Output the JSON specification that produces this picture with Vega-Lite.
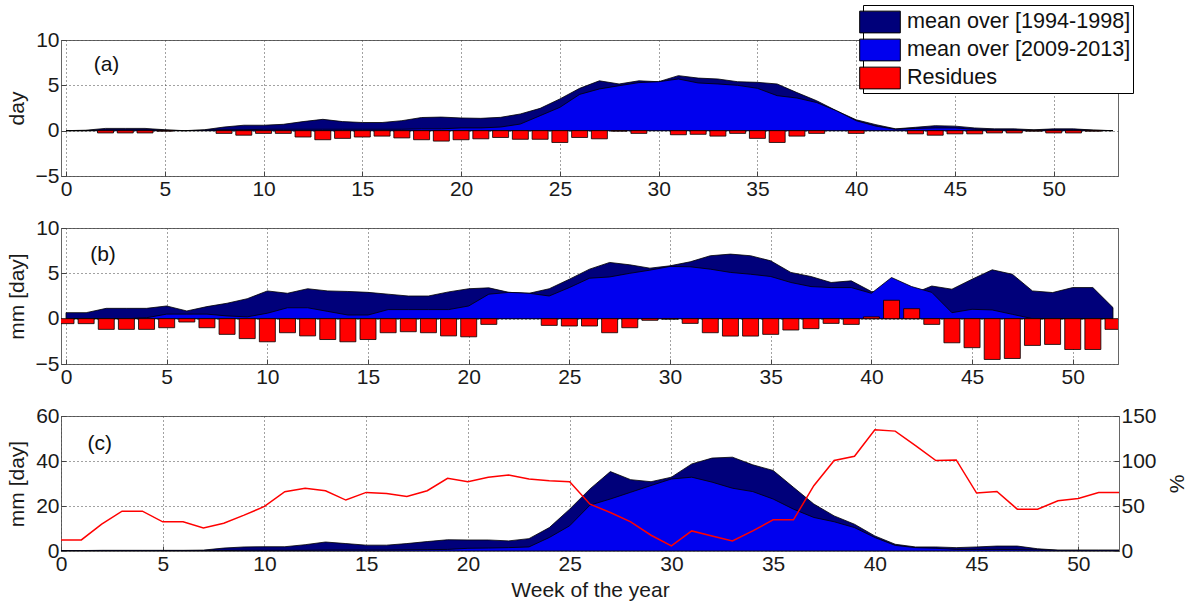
{
  "$schema": "https://vega.github.io/schema/vega-lite/v6.json",
  "padding": {"left": 5, "top": 4, "right": 0, "bottom": 0},
  "background": "white",
  "spacing": 52,
  "bounds": "flush",
  "datasets": {
    "a": [
      {"week": 0, "old": 0, "new": 0, "res": null},
      {"week": 1, "old": 0.05, "new": 0, "res": null},
      {"week": 2, "old": 0.25, "new": 0.1, "res": -0.25},
      {"week": 3, "old": 0.25, "new": 0.1, "res": -0.25},
      {"week": 4, "old": 0.25, "new": 0.1, "res": -0.25},
      {"week": 5, "old": 0.1, "new": 0.05, "res": -0.05},
      {"week": 6, "old": 0, "new": 0, "res": null},
      {"week": 7, "old": 0.1, "new": 0.05, "res": null},
      {"week": 8, "old": 0.4, "new": 0.1, "res": -0.3},
      {"week": 9, "old": 0.6, "new": 0.1, "res": -0.5},
      {"week": 10, "old": 0.6, "new": 0.15, "res": -0.3},
      {"week": 11, "old": 0.7, "new": 0.15, "res": -0.3},
      {"week": 12, "old": 1.0, "new": 0.15, "res": -0.7},
      {"week": 13, "old": 1.25, "new": 0.15, "res": -1.0},
      {"week": 14, "old": 1.0, "new": 0.15, "res": -0.85},
      {"week": 15, "old": 0.9, "new": 0.15, "res": -0.7},
      {"week": 16, "old": 0.9, "new": 0.15, "res": -0.6},
      {"week": 17, "old": 1.1, "new": 0.15, "res": -0.8},
      {"week": 18, "old": 1.45, "new": 0.2, "res": -1.0},
      {"week": 19, "old": 1.5, "new": 0.2, "res": -1.15},
      {"week": 20, "old": 1.4, "new": 0.3, "res": -1.0},
      {"week": 21, "old": 1.36, "new": 0.3, "res": -0.9},
      {"week": 22, "old": 1.47, "new": 0.4, "res": -0.75},
      {"week": 23, "old": 1.84, "new": 0.73, "res": -0.95},
      {"week": 24, "old": 2.46, "new": 1.65, "res": -0.95},
      {"week": 25, "old": 3.5, "new": 2.57, "res": -1.3},
      {"week": 26, "old": 4.67, "new": 4.0, "res": -0.75},
      {"week": 27, "old": 5.5, "new": 4.6, "res": -0.9},
      {"week": 28, "old": 5.15, "new": 4.96, "res": -0.05},
      {"week": 29, "old": 5.5, "new": 5.3, "res": -0.3},
      {"week": 30, "old": 5.4, "new": 5.4, "res": null},
      {"week": 31, "old": 6.07, "new": 5.7, "res": -0.45},
      {"week": 32, "old": 5.8, "new": 5.26, "res": -0.4},
      {"week": 33, "old": 5.7, "new": 5.15, "res": -0.6},
      {"week": 34, "old": 5.4, "new": 5.0, "res": -0.3},
      {"week": 35, "old": 5.33, "new": 4.67, "res": -0.85},
      {"week": 36, "old": 5.15, "new": 3.86, "res": -1.3},
      {"week": 37, "old": 4.2, "new": 3.6, "res": -0.6},
      {"week": 38, "old": 3.3, "new": 3.1, "res": -0.3},
      {"week": 39, "old": 2.2, "new": 2.2, "res": null},
      {"week": 40, "old": 1.2, "new": 1.1, "res": -0.3},
      {"week": 41, "old": 0.66, "new": 0.5, "res": null},
      {"week": 42, "old": 0.2, "new": 0.15, "res": null},
      {"week": 43, "old": 0.37, "new": 0.25, "res": -0.35},
      {"week": 44, "old": 0.55, "new": 0.3, "res": -0.5},
      {"week": 45, "old": 0.5, "new": 0.3, "res": -0.35},
      {"week": 46, "old": 0.3, "new": 0.15, "res": -0.35},
      {"week": 47, "old": 0.2, "new": 0.1, "res": -0.25},
      {"week": 48, "old": 0.2, "new": 0.1, "res": -0.25},
      {"week": 49, "old": 0.1, "new": 0.05, "res": -0.05},
      {"week": 50, "old": 0.2, "new": 0.1, "res": -0.25},
      {"week": 51, "old": 0.2, "new": 0.1, "res": -0.25},
      {"week": 52, "old": 0.07, "new": 0.05, "res": -0.05},
      {"week": 53, "old": 0, "new": 0, "res": null}
    ],
    "b": [
      {"week": 0, "old": 0.66, "new": 0.0, "res": -0.55},
      {"week": 1, "old": 0.66, "new": 0.0, "res": -0.55},
      {"week": 2, "old": 1.14, "new": 0.0, "res": -1.18},
      {"week": 3, "old": 1.14, "new": 0.0, "res": -1.18},
      {"week": 4, "old": 1.14, "new": 0.1, "res": -1.18},
      {"week": 5, "old": 1.4, "new": 0.5, "res": -1.0},
      {"week": 6, "old": 0.85, "new": 0.5, "res": -0.37},
      {"week": 7, "old": 1.33, "new": 0.5, "res": -1.0},
      {"week": 8, "old": 1.7, "new": 0.3, "res": -1.73},
      {"week": 9, "old": 2.2, "new": 0.2, "res": -2.2},
      {"week": 10, "old": 3.06, "new": 0.6, "res": -2.55},
      {"week": 11, "old": 2.8, "new": 1.2, "res": -1.55},
      {"week": 12, "old": 3.3, "new": 1.2, "res": -1.9},
      {"week": 13, "old": 3.06, "new": 0.8, "res": -2.3},
      {"week": 14, "old": 3.0, "new": 0.4, "res": -2.55},
      {"week": 15, "old": 2.9, "new": 0.4, "res": -2.3},
      {"week": 16, "old": 2.7, "new": 1.0, "res": -1.55},
      {"week": 17, "old": 2.5, "new": 1.0, "res": -1.44},
      {"week": 18, "old": 2.5, "new": 1.0, "res": -1.55},
      {"week": 19, "old": 2.95, "new": 1.0, "res": -1.9},
      {"week": 20, "old": 3.3, "new": 1.4, "res": -2.0},
      {"week": 21, "old": 3.4, "new": 2.7, "res": -0.63},
      {"week": 22, "old": 2.9, "new": 2.9, "res": null},
      {"week": 23, "old": 2.8, "new": 2.8, "res": null},
      {"week": 24, "old": 3.3, "new": 2.5, "res": -0.74},
      {"week": 25, "old": 4.35, "new": 3.43, "res": -0.81},
      {"week": 26, "old": 5.46, "new": 4.46, "res": -0.81},
      {"week": 27, "old": 6.2, "new": 4.6, "res": -1.55},
      {"week": 28, "old": 5.94, "new": 5.0, "res": -1.0},
      {"week": 29, "old": 5.57, "new": 5.35, "res": -0.18},
      {"week": 30, "old": 5.83, "new": 5.76, "res": -0.05},
      {"week": 31, "old": 6.27, "new": 5.72, "res": -0.52},
      {"week": 32, "old": 6.94, "new": 5.46, "res": -1.55},
      {"week": 33, "old": 7.12, "new": 5.1, "res": -1.92},
      {"week": 34, "old": 6.94, "new": 4.9, "res": -1.92},
      {"week": 35, "old": 6.38, "new": 4.65, "res": -1.73},
      {"week": 36, "old": 5.1, "new": 3.99, "res": -1.25},
      {"week": 37, "old": 4.65, "new": 3.54, "res": -1.1},
      {"week": 38, "old": 3.99, "new": 3.43, "res": -0.52},
      {"week": 39, "old": 4.17, "new": 3.43, "res": -0.63},
      {"week": 40, "old": 3.0, "new": 2.8, "res": 0.2},
      {"week": 41, "old": 2.7, "new": 4.54, "res": 2.03},
      {"week": 42, "old": 2.7, "new": 3.54, "res": 1.1},
      {"week": 43, "old": 3.6, "new": 2.9, "res": -0.63},
      {"week": 44, "old": 3.25, "new": 0.66, "res": -2.66},
      {"week": 45, "old": 4.35, "new": 1.03, "res": -3.2},
      {"week": 46, "old": 5.39, "new": 0.96, "res": -4.5},
      {"week": 47, "old": 4.9, "new": 0.48, "res": -4.39},
      {"week": 48, "old": 3.06, "new": 0.0, "res": -2.95},
      {"week": 49, "old": 2.88, "new": 0.0, "res": -2.84},
      {"week": 50, "old": 3.43, "new": 0.0, "res": -3.4},
      {"week": 51, "old": 3.43, "new": 0.0, "res": -3.4},
      {"week": 52, "old": 1.22, "new": 0.0, "res": -1.18}
    ],
    "c": [
      {"week": 0, "old": 0.2, "new": 0.1, "pct": 12.3},
      {"week": 1, "old": 0.2, "new": 0.1, "pct": 12.3},
      {"week": 2, "old": 0.3, "new": 0.1, "pct": 29.8},
      {"week": 3, "old": 0.3, "new": 0.1, "pct": 44.3},
      {"week": 4, "old": 0.3, "new": 0.1, "pct": 44.3},
      {"week": 5, "old": 0.3, "new": 0.1, "pct": 32.4},
      {"week": 6, "old": 0.3, "new": 0.1, "pct": 32.4},
      {"week": 7, "old": 0.4, "new": 0.2, "pct": 25.7},
      {"week": 8, "old": 1.3, "new": 0.2, "pct": 30.9},
      {"week": 9, "old": 1.8, "new": 0.3, "pct": 39.8},
      {"week": 10, "old": 1.9, "new": 0.3, "pct": 49.5},
      {"week": 11, "old": 1.9, "new": 0.3, "pct": 65.9},
      {"week": 12, "old": 2.8, "new": 0.3, "pct": 69.6},
      {"week": 13, "old": 4.0, "new": 0.4, "pct": 67},
      {"week": 14, "old": 3.3, "new": 0.4, "pct": 56.6},
      {"week": 15, "old": 2.6, "new": 0.4, "pct": 65.1},
      {"week": 16, "old": 2.6, "new": 0.4, "pct": 64},
      {"week": 17, "old": 3.3, "new": 0.5, "pct": 60.7},
      {"week": 18, "old": 4.2, "new": 0.6, "pct": 67},
      {"week": 19, "old": 5.0, "new": 0.7, "pct": 80.8},
      {"week": 20, "old": 4.9, "new": 1.2, "pct": 77},
      {"week": 21, "old": 4.9, "new": 1.3, "pct": 81.9},
      {"week": 22, "old": 4.5, "new": 1.5, "pct": 84.5},
      {"week": 23, "old": 5.5, "new": 1.8, "pct": 80},
      {"week": 24, "old": 10.4, "new": 6, "pct": 78},
      {"week": 25, "old": 18.6, "new": 11.2, "pct": 77},
      {"week": 26, "old": 27.6, "new": 20.4, "pct": 52},
      {"week": 27, "old": 35.3, "new": 23.1, "pct": 42.8},
      {"week": 28, "old": 31.7, "new": 26.1, "pct": 32.4},
      {"week": 29, "old": 30.8, "new": 29.1, "pct": 17.5},
      {"week": 30, "old": 32.8, "new": 32, "pct": 5.6},
      {"week": 31, "old": 38.7, "new": 32.8, "pct": 22.3},
      {"week": 32, "old": 41.3, "new": 30.6, "pct": 16.7},
      {"week": 33, "old": 41.7, "new": 27.9, "pct": 11.2},
      {"week": 34, "old": 38.3, "new": 26.4, "pct": 22.3},
      {"week": 35, "old": 35.8, "new": 23.1, "pct": 34.6},
      {"week": 36, "old": 28.3, "new": 18.6, "pct": 34.6},
      {"week": 37, "old": 20.9, "new": 14.9, "pct": 72.6},
      {"week": 38, "old": 15.6, "new": 13, "pct": 100.5},
      {"week": 39, "old": 11.9, "new": 10.4, "pct": 105.3},
      {"week": 40, "old": 6.7, "new": 6, "pct": 134.7},
      {"week": 41, "old": 3, "new": 2.5, "pct": 133.2},
      {"week": 42, "old": 1.8, "new": 1.5, "pct": 117},
      {"week": 43, "old": 1.8, "new": 1.2, "pct": 100.5},
      {"week": 44, "old": 1.5, "new": 0.7, "pct": 101.2},
      {"week": 45, "old": 1.8, "new": 0.7, "pct": 64.4},
      {"week": 46, "old": 2.2, "new": 0.7, "pct": 66.2},
      {"week": 47, "old": 2.2, "new": 0.6, "pct": 46.5},
      {"week": 48, "old": 1, "new": 0.5, "pct": 46.5},
      {"week": 49, "old": 0.4, "new": 0.3, "pct": 55.8},
      {"week": 50, "old": 0.4, "new": 0.3, "pct": 58.4},
      {"week": 51, "old": 0.4, "new": 0.3, "pct": 65.1},
      {"week": 52, "old": 0.4, "new": 0.3, "pct": 65.1}
    ]
  },
  "vconcat": [
    {
      "width": 1057,
      "height": 136,
      "data": {"name": "a"},
      "layer": [
        {
          "mark": {"type": "area", "stroke": "black", "strokeWidth": 0.8, "clip": true},
          "encoding": {
            "x": {"field": "week", "type": "quantitative", "scale": {"domain": [0, 53], "nice": false}, "axis": {"title": null, "values": [0, 5, 10, 15, 20, 25, 30, 35, 40, 45, 50]}},
            "y": {"field": "old", "type": "quantitative", "scale": {"domain": [-5, 10], "nice": false, "zero": false}, "axis": {"title": "day", "values": [-5, 0, 5, 10]}},
            "color": {
              "datum": "mean over [1994-1998]", "type": "nominal",
              "scale": {"domain": ["mean over [1994-1998]", "mean over [2009-2013]", "Residues"], "range": ["#00007A", "#0000EE", "#FF0000"]},
              "legend": {"orient": "none", "legendX": 802, "legendY": -35}
            }
          }
        },
        {
          "mark": {"type": "area", "stroke": "black", "strokeWidth": 0.8, "clip": true},
          "encoding": {
            "x": {"field": "week", "type": "quantitative"},
            "y": {"field": "new", "type": "quantitative"},
            "color": {"datum": "mean over [2009-2013]", "type": "nominal"}
          }
        },
        {
          "transform": [{"filter": "datum.res != null"}],
          "mark": {"type": "bar", "stroke": "black", "strokeWidth": 0.8, "size": 16, "clip": true},
          "encoding": {
            "x": {"field": "week", "type": "quantitative"},
            "y": {"field": "res", "type": "quantitative"},
            "color": {"datum": "Residues", "type": "nominal"}
          }
        },
        {
          "data": {"values": [{"panel": "(a)"}]},
          "mark": {"type": "text", "align": "left", "baseline": "middle", "fontSize": 21, "fontWeight": "normal", "font": "Liberation Sans", "fill": "#111"},
          "encoding": {"x": {"datum": 1.4}, "y": {"datum": 7.2}, "text": {"field": "panel"}}
        }
      ]
    },
    {
      "width": 1057,
      "height": 136,
      "data": {"name": "b"},
      "layer": [
        {
          "mark": {"type": "area", "stroke": "black", "strokeWidth": 0.8, "clip": true},
          "encoding": {
            "x": {"field": "week", "type": "quantitative", "scale": {"domain": [0, 52], "nice": false}, "axis": {"title": null, "values": [0, 5, 10, 15, 20, 25, 30, 35, 40, 45, 50]}},
            "y": {"field": "old", "type": "quantitative", "scale": {"domain": [-5, 10], "nice": false, "zero": false}, "axis": {"title": "mm [day]", "values": [-5, 0, 5, 10]}},
            "color": {"datum": "mean over [1994-1998]", "type": "nominal"}
          }
        },
        {
          "mark": {"type": "area", "stroke": "black", "strokeWidth": 0.8, "clip": true},
          "encoding": {
            "x": {"field": "week", "type": "quantitative"},
            "y": {"field": "new", "type": "quantitative"},
            "color": {"datum": "mean over [2009-2013]", "type": "nominal"}
          }
        },
        {
          "transform": [{"filter": "datum.res != null"}],
          "mark": {"type": "bar", "stroke": "black", "strokeWidth": 0.8, "size": 16, "clip": true},
          "encoding": {
            "x": {"field": "week", "type": "quantitative"},
            "y": {"field": "res", "type": "quantitative"},
            "color": {"datum": "Residues", "type": "nominal"}
          }
        },
        {
          "data": {"values": [{"panel": "(b)"}]},
          "mark": {"type": "text", "align": "left", "baseline": "middle", "fontSize": 21, "fontWeight": "normal", "font": "Liberation Sans", "fill": "#111"},
          "encoding": {"x": {"datum": 1.2}, "y": {"datum": 7.0}, "text": {"field": "panel"}}
        }
      ]
    },
    {
      "width": 1058,
      "height": 135,
      "data": {"name": "c"},
      "resolve": {"scale": {"y": "independent"}},
      "layer": [
        {
          "layer": [
            {
              "mark": {"type": "area", "stroke": "black", "strokeWidth": 0.8, "clip": true},
              "encoding": {
                "x": {"field": "week", "type": "quantitative", "scale": {"domain": [0, 52], "nice": false}, "axis": {"title": "Week of the year", "titlePadding": 5, "values": [0, 5, 10, 15, 20, 25, 30, 35, 40, 45, 50]}},
                "y": {"field": "old", "type": "quantitative", "scale": {"domain": [0, 60], "nice": false}, "axis": {"title": "mm [day]", "values": [0, 20, 40, 60]}},
                "color": {"datum": "mean over [1994-1998]", "type": "nominal"}
              }
            },
            {
              "mark": {"type": "area", "stroke": "black", "strokeWidth": 0.8, "clip": true},
              "encoding": {
                "x": {"field": "week", "type": "quantitative"},
                "y": {"field": "new", "type": "quantitative"},
                "color": {"datum": "mean over [2009-2013]", "type": "nominal"}
              }
            },
            {
              "data": {"values": [{"panel": "(c)"}]},
              "mark": {"type": "text", "align": "left", "baseline": "middle", "fontSize": 21, "fontWeight": "normal", "font": "Liberation Sans", "fill": "#111"},
              "encoding": {"x": {"datum": 1.3}, "y": {"datum": 47.5}, "text": {"field": "panel"}}
            }
          ]
        },
        {
          "mark": {"type": "line", "color": "#FF0000", "strokeWidth": 1.5, "clip": true},
          "encoding": {
            "x": {"field": "week", "type": "quantitative"},
            "y": {"field": "pct", "type": "quantitative", "scale": {"domain": [0, 150], "nice": false}, "axis": {"title": "%", "orient": "right", "grid": false, "values": [0, 50, 100, 150], "titleAngle": 270, "titleBaseline": "top", "titlePadding": 10}}
          }
        }
      ]
    }
  ],
  "config": {
    "font": "Liberation Sans",
    "view": {"stroke": "#666", "strokeWidth": 1},
    "axis": {
      "labelFont": "Liberation Sans", "labelFontSize": 21, "labelColor": "#1a1a1a",
      "titleFont": "Liberation Sans", "titleFontSize": 21, "titleFontWeight": "normal", "titleColor": "#1a1a1a",
      "grid": true, "gridColor": "#444", "gridDash": [1, 3], "gridWidth": 1,
      "domain": false, "tickColor": "#444", "tickSize": -5, "labelPadding": 7,
      "labelFlush": false, "titlePadding": 8
    },
    "legend": {
      "title": null,
      "symbolType": "M-1.4,-0.75H1.4V0.75H-1.4Z",
      "symbolSize": 841,
      "symbolStrokeColor": "black",
      "symbolStrokeWidth": 1,
      "symbolOpacity": 1,
      "labelFont": "Liberation Sans",
      "labelFontSize": 21.6,
      "labelColor": "#111",
      "labelOffset": 12,
      "labelLimit": 400,
      "strokeColor": "black",
      "fillColor": "white",
      "padding": 2,
      "rowPadding": 0
    }
  }
}
